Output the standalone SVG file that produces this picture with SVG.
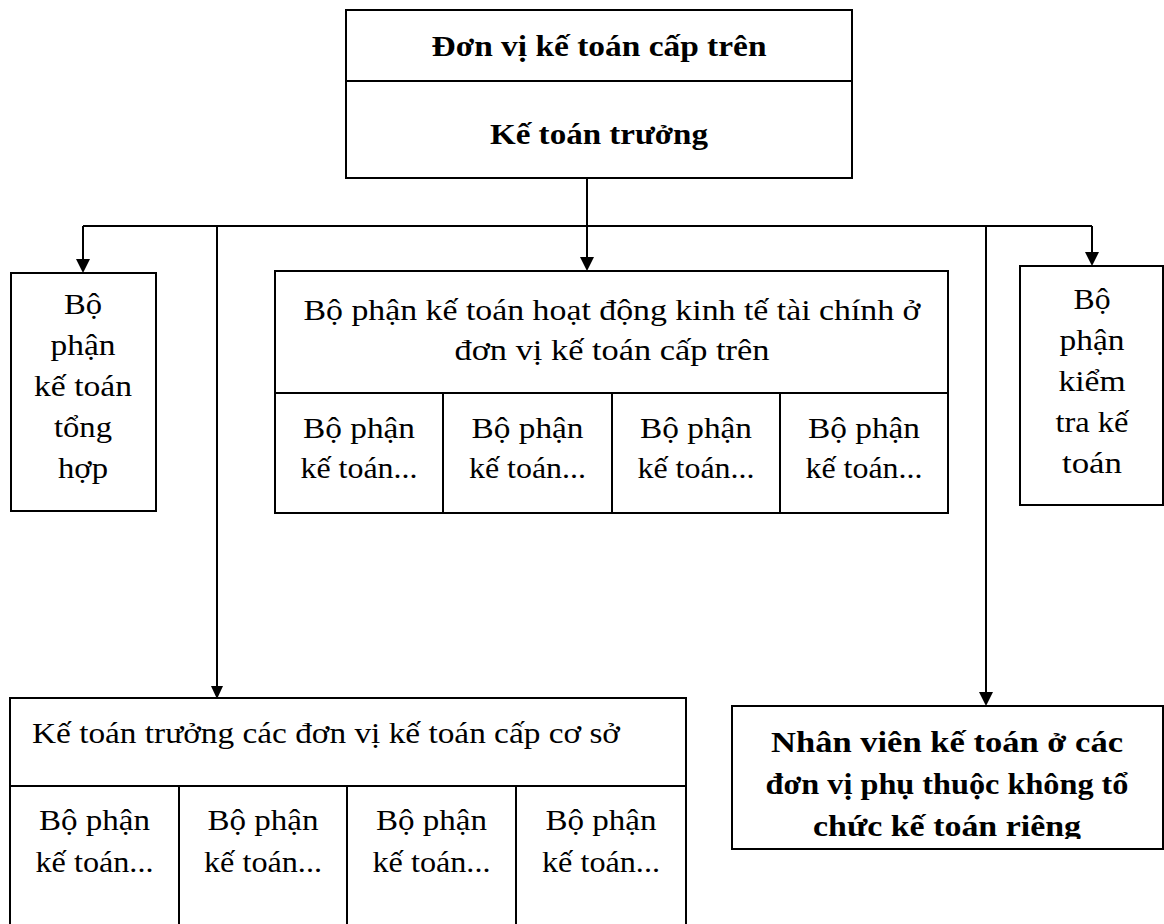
<svg xmlns="http://www.w3.org/2000/svg" width="1164" height="924" viewBox="0 0 1164 924">
  <style>
    .box { fill: #ffffff; stroke: #000000; stroke-width: 2; }
    .rule { stroke: #000000; stroke-width: 2; fill: none; }
    .wire { stroke: #000000; stroke-width: 2; fill: none; }
    .head { fill: #000000; }
    text { font-family: "Liberation Serif", "Times New Roman", serif; fill: #000000; text-anchor: middle; }
    .t { font-size: 28.5px; }
    .b { font-size: 29px; font-weight: bold; }
  </style>
  <defs>
    <clipPath id="clipStaff">
      <rect x="732" y="706" width="432" height="133"/>
    </clipPath>
  </defs>
  <rect width="1164" height="924" fill="#ffffff"/>

  <!-- connectors: trunk, bus and drops with filled arrowheads -->
  <g id="connectors">
    <line class="wire" x1="587" y1="178" x2="587" y2="226"/>
    <line class="wire" x1="83" y1="226" x2="1092" y2="226"/>
    <path class="wire" d="M83,226 L83,260"/>
    <path class="head" d="M76,259 L90,259 L83,273 Z"/>
    <path class="wire" d="M587,226 L587,258"/>
    <path class="head" d="M580,257 L594,257 L587,271 Z"/>
    <path class="wire" d="M1092,226 L1092,253"/>
    <path class="head" d="M1085,252 L1099,252 L1092,266 Z"/>
    <path class="wire" d="M217,226 L217,686"/>
    <path class="head" d="M211,686 L223,686 L217,699 Z"/>
    <path class="wire" d="M986,226 L986,693"/>
    <path class="head" d="M979,692 L993,692 L986,706 Z"/>
  </g>

  <!-- head unit -->
  <g id="head">
    <rect class="box" x="346" y="10" width="506" height="168"/>
    <line class="rule" x1="346" y1="81" x2="852" y2="81"/>
    <text class="b" x="599" y="56" textLength="335" lengthAdjust="spacingAndGlyphs">Đơn vị kế toán cấp trên</text>
    <text class="b" x="599" y="144" textLength="218" lengthAdjust="spacingAndGlyphs">Kế toán trưởng</text>
  </g>

  <!-- general accounting -->
  <g id="general">
    <rect class="box" x="11" y="273" width="145" height="238"/>
    <text class="t" x="83" y="314" textLength="38" lengthAdjust="spacingAndGlyphs">Bộ</text>
    <text class="t" x="83" y="355" textLength="65" lengthAdjust="spacingAndGlyphs">phận</text>
    <text class="t" x="83" y="396" textLength="98" lengthAdjust="spacingAndGlyphs">kế toán</text>
    <text class="t" x="83" y="437" textLength="58" lengthAdjust="spacingAndGlyphs">tổng</text>
    <text class="t" x="83" y="478" textLength="50" lengthAdjust="spacingAndGlyphs">hợp</text>
  </g>

  <!-- finance operations at head unit -->
  <g id="operations">
    <rect class="box" x="275" y="271" width="673" height="242"/>
    <line class="rule" x1="275" y1="393" x2="948" y2="393"/>
    <line class="rule" x1="443" y1="393" x2="443" y2="513"/>
    <line class="rule" x1="612" y1="393" x2="612" y2="513"/>
    <line class="rule" x1="780" y1="393" x2="780" y2="513"/>
    <text class="t" x="612" y="320" textLength="617" lengthAdjust="spacingAndGlyphs">Bộ phận kế toán hoạt động kinh tế tài chính ở</text>
    <text class="t" x="612" y="360" textLength="315" lengthAdjust="spacingAndGlyphs">đơn vị kế toán cấp trên</text>
    <text class="t" x="359" y="438" textLength="112" lengthAdjust="spacingAndGlyphs">Bộ phận</text>
    <text class="t" x="359" y="478" textLength="117" lengthAdjust="spacingAndGlyphs">kế toán...</text>
    <text class="t" x="527.5" y="438" textLength="112" lengthAdjust="spacingAndGlyphs">Bộ phận</text>
    <text class="t" x="527.5" y="478" textLength="117" lengthAdjust="spacingAndGlyphs">kế toán...</text>
    <text class="t" x="696" y="438" textLength="112" lengthAdjust="spacingAndGlyphs">Bộ phận</text>
    <text class="t" x="696" y="478" textLength="117" lengthAdjust="spacingAndGlyphs">kế toán...</text>
    <text class="t" x="864" y="438" textLength="112" lengthAdjust="spacingAndGlyphs">Bộ phận</text>
    <text class="t" x="864" y="478" textLength="117" lengthAdjust="spacingAndGlyphs">kế toán...</text>
  </g>

  <!-- audit -->
  <g id="audit">
    <rect class="box" x="1020" y="266" width="143" height="239"/>
    <text class="t" x="1092" y="309" textLength="37" lengthAdjust="spacingAndGlyphs">Bộ</text>
    <text class="t" x="1092" y="350" textLength="65" lengthAdjust="spacingAndGlyphs">phận</text>
    <text class="t" x="1092" y="391" textLength="67" lengthAdjust="spacingAndGlyphs">kiểm</text>
    <text class="t" x="1092" y="432" textLength="73" lengthAdjust="spacingAndGlyphs">tra kế</text>
    <text class="t" x="1092" y="473" textLength="60" lengthAdjust="spacingAndGlyphs">toán</text>
  </g>

  <!-- base-level chief accountants -->
  <g id="base">
    <rect class="box" x="10" y="698" width="676" height="240"/>
    <line class="rule" x1="10" y1="786" x2="686" y2="786"/>
    <line class="rule" x1="179" y1="786" x2="179" y2="930"/>
    <line class="rule" x1="347" y1="786" x2="347" y2="930"/>
    <line class="rule" x1="516" y1="786" x2="516" y2="930"/>
    <text class="t" x="32" y="743" textLength="588" lengthAdjust="spacingAndGlyphs" style="text-anchor:start">Kế toán trưởng các đơn vị kế toán cấp cơ sở</text>
    <text class="t" x="94.5" y="830" textLength="111" lengthAdjust="spacingAndGlyphs">Bộ phận</text>
    <text class="t" x="94.5" y="872" textLength="118" lengthAdjust="spacingAndGlyphs">kế toán...</text>
    <text class="t" x="263" y="830" textLength="111" lengthAdjust="spacingAndGlyphs">Bộ phận</text>
    <text class="t" x="263" y="872" textLength="118" lengthAdjust="spacingAndGlyphs">kế toán...</text>
    <text class="t" x="431.5" y="830" textLength="111" lengthAdjust="spacingAndGlyphs">Bộ phận</text>
    <text class="t" x="431.5" y="872" textLength="118" lengthAdjust="spacingAndGlyphs">kế toán...</text>
    <text class="t" x="601" y="830" textLength="111" lengthAdjust="spacingAndGlyphs">Bộ phận</text>
    <text class="t" x="601" y="872" textLength="118" lengthAdjust="spacingAndGlyphs">kế toán...</text>
  </g>

  <!-- staff at dependent units -->
  <g id="staff">
    <rect class="box" x="732" y="706" width="431" height="143"/>
    <g clip-path="url(#clipStaff)">
      <text class="b" x="947" y="752" textLength="352" lengthAdjust="spacingAndGlyphs">Nhân viên kế toán ở các</text>
      <text class="b" x="947" y="794" textLength="363" lengthAdjust="spacingAndGlyphs">đơn vị phụ thuộc không tổ</text>
      <text class="b" x="947" y="836" textLength="268" lengthAdjust="spacingAndGlyphs">chức kế toán riêng</text>
    </g>
  </g>
</svg>
